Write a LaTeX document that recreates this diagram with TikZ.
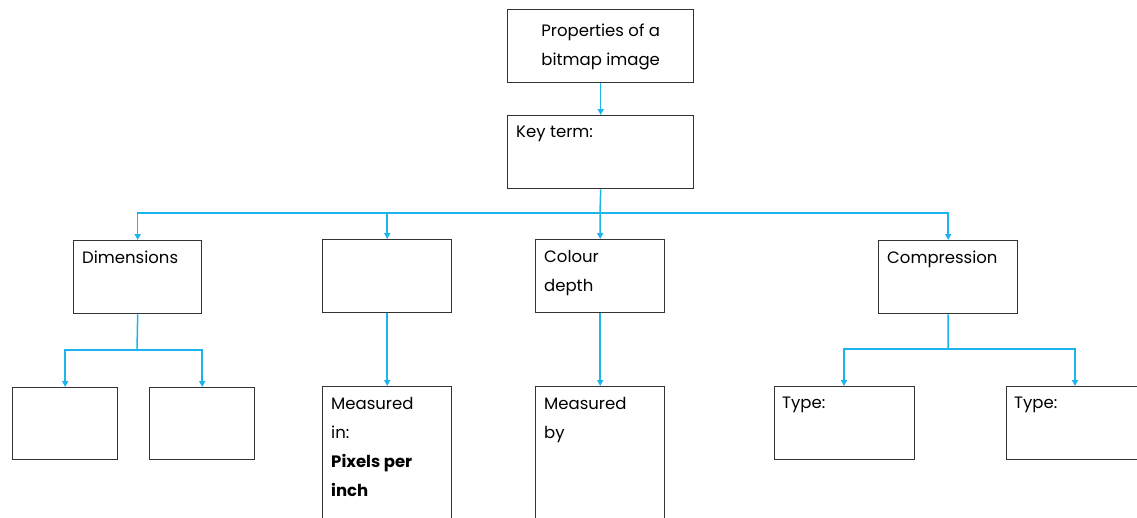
\documentclass[tikz,border=0pt]{standalone}
\usepackage{fontspec}
\setmainfont{Poppins}
\usetikzlibrary{arrows.meta}
\definecolor{lineblue}{HTML}{1CB4EC}
\definecolor{boxline}{HTML}{333333}
\begin{document}
\begin{tikzpicture}[x=1pt,y=-1pt,
  box/.style={draw=boxline,line width=1.4pt,rectangle,inner sep=0pt,anchor=north west},
  txt/.style={anchor=north west,inner sep=0pt,align=left,font=\fontsize{16.5}{29}\selectfont},
  conn/.style={draw=lineblue,line width=1.5pt},
  arr/.style={conn,-{Triangle[length=6pt,width=6pt]}}]
\useasboundingbox (0,0) rectangle (1137,517);
\clip (0,0) rectangle (1137,517);
\fill[white] (0,0) rectangle (1137,517);
% boxes
\node[box,minimum width=186pt,minimum height=73pt] (top) at (507,9) {};
\node[anchor=center,align=center,inner sep=0pt,font=\fontsize{16.5}{29}\selectfont] (toptxt) at ([yshift=-1pt]top.center) {Properties of a\\bitmap image};
\node[box,minimum width=186pt,minimum height=73pt] (key) at (507,115) {};
\node[txt] (keytxt) at (516,126) {Key term:};
\node[box,minimum width=128pt,minimum height=73pt] (dim) at (73,240) {};
\node[txt] (dimtxt) at (82,251) {Dimensions};
\node[box,minimum width=129pt,minimum height=73pt] (blank) at (322,239) {};
\node[box,minimum width=129pt,minimum height=73pt] (col) at (535,239) {};
\node[txt] (coltxt) at (544,250) {Colour\\depth};
\node[box,minimum width=139pt,minimum height=73pt] (comp) at (878,240) {};
\node[txt] (comptxt) at (887,251) {Compression};
\node[box,minimum width=105pt,minimum height=72pt] (d1) at (12,387) {};
\node[box,minimum width=105pt,minimum height=72pt] (d2) at (149,387) {};
\node[box,minimum width=129pt,minimum height=150pt] (meas) at (322,386) {};
\node[txt] (meastxt) at (331,397) {Measured\\in:\\\textbf{Pixels per}\\\textbf{inch}};
\node[box,minimum width=129pt,minimum height=150pt] (measby) at (535,386) {};
\node[txt] (measbytxt) at (544,397) {Measured\\by};
\node[box,minimum width=140pt,minimum height=73pt] (t1) at (774,386) {};
\node[txt] (t1txt) at (782,397) {Type:};
\node[box,minimum width=150pt,minimum height=73pt] (t2) at (1006,386) {};
\node[txt] (t2txt) at (1014,397) {Type:};
% connectors
\coordinate (hub) at (600,213);
\coordinate (dhub) at (137,350);
\coordinate (chub) at (948,349);
\draw[arr] (top.south) -- (key.north);
\draw[conn] (key.south) -- (hub);
\draw[conn] (137,213) -- (948,213);
\draw[arr] (hub) -| (dim.north);
\draw[arr] (hub) -| (blank.north);
\draw[arr] (hub) -- (col.north);
\draw[arr] (hub) -| (comp.north);
\draw[conn] (dim.south) -- (dhub);
\draw[arr] (dhub) -| (d1.north);
\draw[arr] (dhub) -| (d2.north);
\draw[arr] (blank.south) -- (meas.north);
\draw[arr] (col.south) -- (measby.north);
\draw[conn] (comp.south) -- (chub);
\draw[arr] (chub) -| (844,386);
\draw[arr] (chub) -| (1075,386);
\end{tikzpicture}
\end{document}
